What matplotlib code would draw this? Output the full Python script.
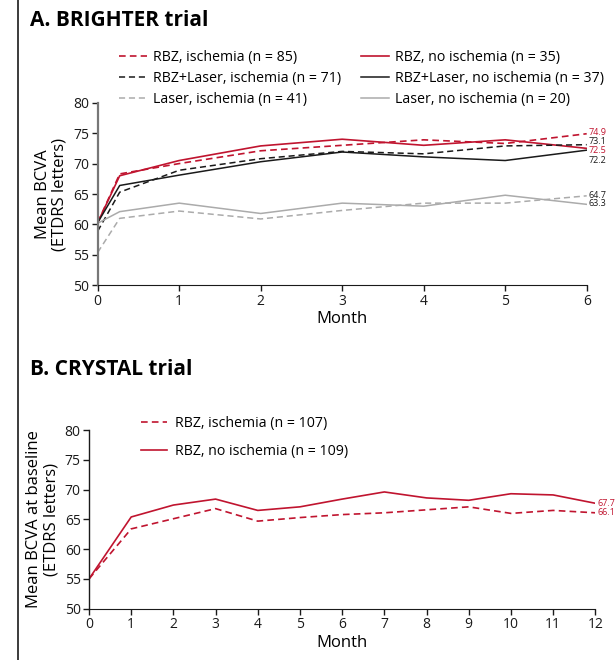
import matplotlib
matplotlib.use("Agg")
import matplotlib.pyplot as plt
from matplotlib.lines import Line2D

plt.rcParams['font.family'] = ['Open Sans', 'DejaVu Sans']

RED = "#c0142f"
BLACK = "#1a1a1a"
GREY = "#ababab"
DASH = (0, (4, 2.5))

# A. BRIGHTER trial
months_a = [0, 0.27, 1, 2, 3, 4, 5, 6]
rbz_isch = [60.3, 68.3, 70.0, 72.1, 73.0, 73.9, 73.3, 74.9]
rbz_noisch = [60.3, 68.0, 70.5, 72.9, 74.0, 73.0, 73.9, 72.5]
rbzl_isch = [58.9, 65.3, 68.9, 70.8, 72.0, 71.6, 72.9, 73.1]
rbzl_noisch = [60.3, 66.4, 68.1, 70.3, 71.9, 71.1, 70.5, 72.2]
laser_isch = [55.4, 61.0, 62.2, 60.9, 62.3, 63.5, 63.5, 64.7]
laser_noisch = [60.2, 62.1, 63.5, 61.8, 63.5, 63.0, 64.8, 63.3]

labels_a = ["RBZ, ischemia (n = 85)", "RBZ, no ischemia (n = 35)",
            "RBZ+Laser, ischemia (n = 71)", "RBZ+Laser, no ischemia (n = 37)",
            "Laser, ischemia (n = 41)", "Laser, no ischemia (n = 20)"]
end_a = ["74.9", "73.1", "72.5", "72.2", "64.7", "63.3"]
end_a_pos = [75.1, 73.6, 72.1, 70.5, 64.8, 63.4]
end_a_col = [RED, BLACK, RED, BLACK, BLACK, BLACK]

# B. CRYSTAL trial
months_b = list(range(13))
cry_isch = [55.0, 63.4, 65.1, 66.8, 64.7, 65.3, 65.8, 66.1, 66.6, 67.1, 66.0, 66.5, 66.1]
cry_noisch = [55.0, 65.4, 67.4, 68.4, 66.5, 67.1, 68.4, 69.6, 68.6, 68.2, 69.3, 69.1, 67.7]
labels_b = ["RBZ, ischemia (n = 107)", "RBZ, no ischemia (n = 109)"]
end_b = ["67.7", "66.1"]
end_b_pos = [67.7, 66.2]

W, H = 616, 660
fig = plt.figure(figsize=(W / 100, H / 100), dpi=100)


def style_axes(ax, xmax, left_col):
    for s in ["top", "right"]:
        ax.spines[s].set_visible(False)
    ax.spines["left"].set_color(left_col)
    ax.spines["left"].set_linewidth(1.6 if left_col != BLACK else 1.0)
    ax.spines["bottom"].set_color(BLACK)
    ax.set_ylim(50, 80)
    ax.set_xlim(0, xmax)
    ax.set_yticks(range(50, 81, 5))
    ax.set_xticks(range(0, xmax + 1))
    ax.tick_params(direction="out", length=4, width=1, labelsize=10, colors=BLACK, pad=2)


# panel A
ax1 = fig.add_axes([97.7 / W, 1 - 285.3 / H, 489 / W, 182.6 / H])
style_axes(ax1, 6, "#777777")
ax1.plot(months_a, rbz_isch, color=RED, lw=1.2, ls=DASH)
ax1.plot(months_a, rbz_noisch, color=RED, lw=1.2)
ax1.plot(months_a, rbzl_isch, color=BLACK, lw=1.1, ls=DASH)
ax1.plot(months_a, rbzl_noisch, color=BLACK, lw=1.1)
ax1.plot(months_a, laser_isch, color=GREY, lw=1.1, ls=DASH)
ax1.plot(months_a, laser_noisch, color=GREY, lw=1.1)
for t, y, c in zip(end_a, end_a_pos, end_a_col):
    ax1.text(6.02, y, t, color=c, fontsize=6.5, va="center", ha="left")
ax1.set_xlabel("Month", fontsize=12, labelpad=2)
ax1.set_ylabel("Mean BCVA\n(ETDRS letters)", fontsize=12, labelpad=4, linespacing=1.1)

handles_a = [
    Line2D([], [], color=RED, lw=1.2, ls=DASH),
    Line2D([], [], color=RED, lw=1.2),
    Line2D([], [], color=BLACK, lw=1.1, ls=DASH),
    Line2D([], [], color=BLACK, lw=1.1),
    Line2D([], [], color=GREY, lw=1.1, ls=DASH),
    Line2D([], [], color=GREY, lw=1.1),
]
# reorder so that ncol=2 fills row-wise
order = [0, 2, 4, 1, 3, 5]
fig.legend([handles_a[i] for i in order], [labels_a[i] for i in order],
           ncol=2, loc="upper left", bbox_to_anchor=(119 / W, 1 - 50 / H),
           frameon=False, fontsize=10.2, handlelength=2.0, handletextpad=0.42,
           columnspacing=1.35, labelspacing=0.42, borderaxespad=0, borderpad=0)

fig.text(30 / W, 1 - 21 / H, "A. BRIGHTER trial", fontsize=15, fontweight="bold",
         va="center", ha="left")

# panel B
ax2 = fig.add_axes([89 / W, 1 - 608.7 / H, 506.3 / W, 178.7 / H])
style_axes(ax2, 12, BLACK)
ax2.plot(months_b, cry_isch, color=RED, lw=1.2, ls=DASH)
ax2.plot(months_b, cry_noisch, color=RED, lw=1.2)
for t, y in zip(end_b, end_b_pos):
    ax2.text(12.05, y, t, color=RED, fontsize=6.5, va="center", ha="left")
ax2.set_xlabel("Month", fontsize=12, labelpad=2)
ax2.set_ylabel("Mean BCVA at baseline\n(ETDRS letters)", fontsize=12, labelpad=4,
               linespacing=1.1)
ax2.legend([Line2D([], [], color=RED, lw=1.2, ls=DASH),
            Line2D([], [], color=RED, lw=1.2)], labels_b,
           loc="upper left", bbox_to_anchor=(52 / 506.3, 1.08),
           frameon=False, fontsize=10.2, handlelength=1.85, handletextpad=0.55,
           labelspacing=0.95, borderaxespad=0, borderpad=0)

fig.text(30 / W, 1 - 370 / H, "B. CRYSTAL trial", fontsize=15, fontweight="bold",
         va="center", ha="left")

# left frame line
fig.add_artist(Line2D([18 / W, 18 / W], [0, 1], transform=fig.transFigure,
                      color=BLACK, lw=1.2))

fig.savefig("out.png", dpi=100)
